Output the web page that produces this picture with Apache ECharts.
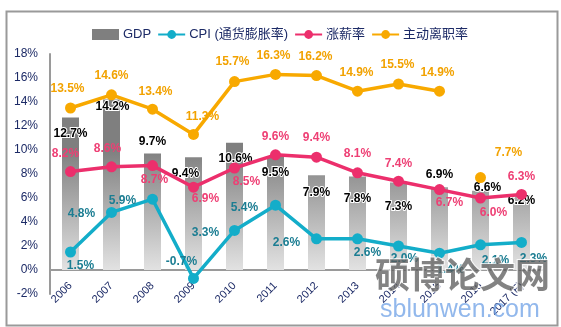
<!DOCTYPE html>
<html><head><meta charset="utf-8">
<script src="https://cdn.jsdelivr.net/npm/echarts@6/dist/echarts.min.js"></script>
<style>html,body{margin:0;padding:0;background:#fff}#c{width:561px;height:327px}</style>
</head><body><div id="c"></div>
<script>
// ---- data ----
const years = ['2006','2007','2008','2009','2010','2011','2012','2013','2014','2015','2016','2017 (F)'];
const gdp = [12.7,14.2,9.7,9.4,10.6,9.5,7.9,7.8,7.3,6.9,6.6,6.2];
const cpi = [1.5,4.8,5.9,-0.7,3.3,5.4,2.6,2.6,2.0,1.4,2.1,2.3];
const wage = [8.2,8.6,8.7,6.9,8.5,9.6,9.4,8.1,7.4,6.7,6.0,6.3];
const turnover = [13.5,14.6,13.4,11.3,15.7,16.3,16.2,14.9,15.5,14.9,null,null];
const turnoverExtra = [null,null,null,null,null,null,null,null,null,null,7.7,null];
const yTicks = {min:-2, max:18, step:2};

// ---- label placement (style only) ----
const gdpOff = [[0,22],[1,13],[0,-6],[-8,22],[1,22],[0,23],[0,23],[0,28],[0,30],[0,-7],[7,3],[0,11]];
const cpiOff = [[10,14],[-30,1],[-30,1],[-12,-17],[-29,2],[-31,2],[-30,4],[10,14],[6,13],[11,16],[15,16],[12,16]];
const wageOff = [[-5,-18],[-4,-18],[2,14],[12,11],[12,14],[0,-18],[0,-20],[0,-19],[0,-18],[10,13],[13,15],[0,-18]];
const turnOff = [[-3,-19],[0,-19],[3,-18],[9,-18],[-2,-20],[-2,-19],[-1,-19],[-1,-19],[-1,-19],[-2,-19],[28,-25],[0,0]];

const FONT = 'Liberation Sans, Arial, sans-serif';
const NAVY = '#1c2a66';
const fmt = p => (p.value == null ? '' : Number(p.value).toFixed(1) + '%');
const items = (vals, offs) => vals.map((v, i) => ({value: v, label: {offset: offs[i]}}));

const barGrad = new echarts.graphic.LinearGradient(0, 150, 0, 270, [
  {offset: 0, color: '#7f7f7f'}, {offset: 1, color: '#e2e2e2'}
], true);

const lineLabel = (color) => ({
  show: true, position: 'inside', formatter: fmt,
  color: color, fontSize: 12, fontWeight: 'bold', fontFamily: FONT
});

const chart = echarts.init(document.getElementById('c'), null, {renderer: 'canvas'});
chart.setOption({
  animation: false,
  backgroundColor: '#fff',
  grid: {left: 50, right: 19, top: 54, bottom: 33, containLabel: false, outerBoundsMode: 'none'},
  legend: {
    data: [{name: 'GDP', icon: 'rect'}, 'CPI (通货膨胀率)', '涨薪率', '主动离职率'],
    left: 87, top: 23, itemWidth: 27, itemHeight: 11, itemGap: 6,
    textStyle: {color: NAVY, fontSize: 13, fontFamily: 'Liberation Sans, Noto Sans CJK SC, sans-serif', padding: [0,0,0,-1]}
  },
  xAxis: {
    type: 'category', data: years,
    axisLine: {onZero: true, lineStyle: {color: '#9a9a9a', width: 2}},
    axisTick: {show: false},
    axisLabel: {rotate: 45, margin: -10, color: NAVY, fontSize: 11, fontFamily: FONT, interval: 0}
  },
  yAxis: {
    type: 'value', min: yTicks.min, max: yTicks.max, interval: yTicks.step,
    axisLine: {show: true, lineStyle: {color: '#9a9a9a', width: 2}},
    axisTick: {show: false},
    splitLine: {show: false},
    axisLabel: {formatter: '{value}%', color: NAVY, fontSize: 12, fontFamily: FONT, margin: 12}
  },
  series: [
    {
      name: 'GDP', type: 'bar', barWidth: 17, z: 1,
      itemStyle: {color: barGrad},
      label: {show: true, position: 'top', distance: 0, formatter: fmt, color: '#000',
        fontSize: 12, fontWeight: 'bold', fontFamily: FONT, textBorderColor: '#fff', textBorderWidth: 2},
      data: items(gdp, gdpOff)
    },
    {
      name: 'CPI (通货膨胀率)', type: 'line', symbol: 'circle', symbolSize: 11, z: 3,
      itemStyle: {color: '#13adc9'}, lineStyle: {color: '#13adc9', width: 3.5},
      label: lineLabel('#1b7d92'),
      data: items(cpi, cpiOff)
    },
    {
      name: '涨薪率', type: 'line', symbol: 'circle', symbolSize: 11, z: 3,
      itemStyle: {color: '#ec2f6c'}, lineStyle: {color: '#ec2f6c', width: 3.5},
      label: lineLabel('#ee3f74'),
      data: items(wage, wageOff)
    },
    {
      name: '主动离职率', type: 'line', symbol: 'circle', symbolSize: 11, z: 3,
      itemStyle: {color: '#f8a900'}, lineStyle: {color: '#f8a900', width: 3.5},
      label: lineLabel('#f2a200'),
      data: items(turnover, turnOff)
    },
    {
      name: '主动离职率 ', type: 'line', symbol: 'circle', symbolSize: 11, z: 3,
      itemStyle: {color: '#f8a900'}, lineStyle: {color: '#f8a900', width: 3.5},
      label: lineLabel('#f2a200'),
      data: items(turnoverExtra, turnOff)
    }
  ],
  graphic: [
    {type: 'rect', left: 4, top: 9, z: 100, silent: true,
      shape: {width: 551, height: 314},
      style: {fill: 'none', stroke: '#9a9a9a', lineWidth: 2}},
    {type: 'text', left: 374, top: 256, z: 100, silent: true,
      style: {text: '硕博论文网', fill: 'rgba(90,90,90,0.75)', font: 'bold 35px "Noto Sans CJK SC"',
        stroke: 'rgba(255,255,255,0.8)', lineWidth: 2}},
    {type: 'text', left: 380, top: 298, z: 100, silent: true,
      style: {text: 'sblunwen.com', fill: 'rgba(110,160,230,0.75)', font: '25px "Liberation Sans"'}}
  ]
});
</script>
</body></html>
